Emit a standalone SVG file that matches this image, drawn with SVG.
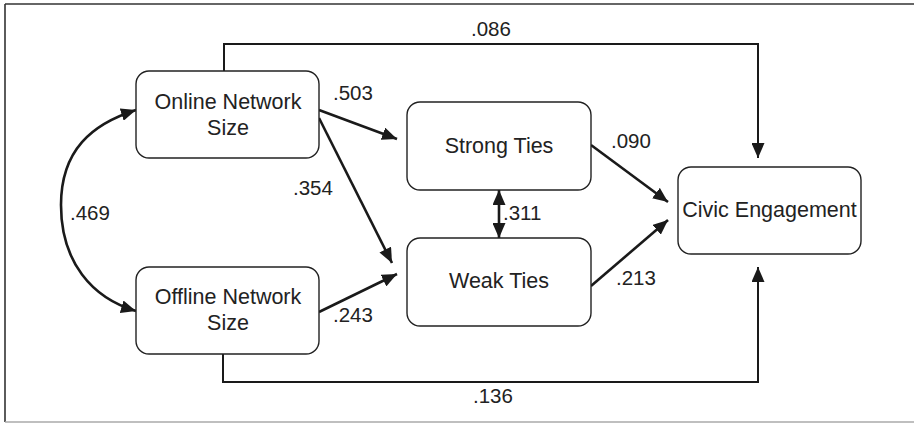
<svg xmlns="http://www.w3.org/2000/svg" width="914" height="423" viewBox="0 0 914 423">
<style>
.node rect{fill:#fff;stroke:#222;stroke-width:1.4}
.nt{font-family:"Liberation Sans",Arial,sans-serif;font-size:21.5px;fill:#222;text-anchor:middle}
.lb{font-family:"Liberation Sans",Arial,sans-serif;font-size:20.5px;fill:#222}
.ar{fill:none;stroke:#1a1a1a;stroke-width:2.6}
.rt{fill:none;stroke:#1a1a1a;stroke-width:2}
</style>
<defs>
<marker id="ah" markerUnits="userSpaceOnUse" markerWidth="15" markerHeight="13" refX="15" refY="6.5" orient="auto-start-reverse" viewBox="0 0 15 13">
<path d="M0,0 L15,6.5 L0,13 z" fill="#1a1a1a"/>
</marker>
</defs>
<rect width="914" height="423" fill="#fff"/>
<g id="frame">
<line x1="5" y1="4" x2="914" y2="4" stroke="#333" stroke-width="1.6"/>
<line x1="5" y1="4" x2="5" y2="422" stroke="#333" stroke-width="1.6"/>
<line x1="5" y1="422" x2="914" y2="422" stroke="#aaa" stroke-width="1.6"/>
</g>
<g id="connectors">
<path class="rt" d="M224,71 V44 H758 V158" marker-end="url(#ah)"/>
<path class="rt" d="M223,354 V382 H758 V267" marker-end="url(#ah)"/>
<path class="ar" d="M136,110 C92,124 61,150 61,205 C61,262 92,298 136,311" marker-start="url(#ah)" marker-end="url(#ah)"/>
<path class="ar" d="M319,110 L397,139" marker-end="url(#ah)"/>
<path class="ar" d="M319,118 L392,263" marker-end="url(#ah)"/>
<path class="ar" d="M319,312 L397,274" marker-end="url(#ah)"/>
<path class="ar" d="M591,145 L668,202" marker-end="url(#ah)"/>
<path class="ar" d="M591,286 L668,220" marker-end="url(#ah)"/>
<path class="ar" d="M499,190 L499,238" marker-start="url(#ah)" marker-end="url(#ah)"/>
<text class="lb" x="471" y="36">.086</text>
<text class="lb" x="333" y="100">.503</text>
<text class="lb" x="293" y="195">.354</text>
<text class="lb" x="70" y="220">.469</text>
<text class="lb" x="333" y="322">.243</text>
<text class="lb" x="611" y="148">.090</text>
<text class="lb" x="503" y="220">.311</text>
<text class="lb" x="616" y="285">.213</text>
<text class="lb" x="473" y="403">.136</text>
</g>
<g id="online" class="node">
<rect x="136" y="71" width="183" height="87" rx="13"/>
<text class="nt" x="228" y="109">Online Network</text>
<text class="nt" x="228" y="135">Size</text>
</g>
<g id="offline" class="node">
<rect x="136" y="267" width="183" height="87" rx="13"/>
<text class="nt" x="228" y="304">Offline Network</text>
<text class="nt" x="228" y="330">Size</text>
</g>
<g id="strong" class="node">
<rect x="407" y="102" width="184" height="88" rx="13"/>
<text class="nt" x="499" y="153">Strong Ties</text>
</g>
<g id="weak" class="node">
<rect x="407" y="238" width="184" height="88" rx="13"/>
<text class="nt" x="499" y="288">Weak Ties</text>
</g>
<g id="civic" class="node">
<rect x="678" y="167" width="183" height="87" rx="13"/>
<text class="nt" x="769.5" y="217">Civic Engagement</text>
</g>
</svg>
